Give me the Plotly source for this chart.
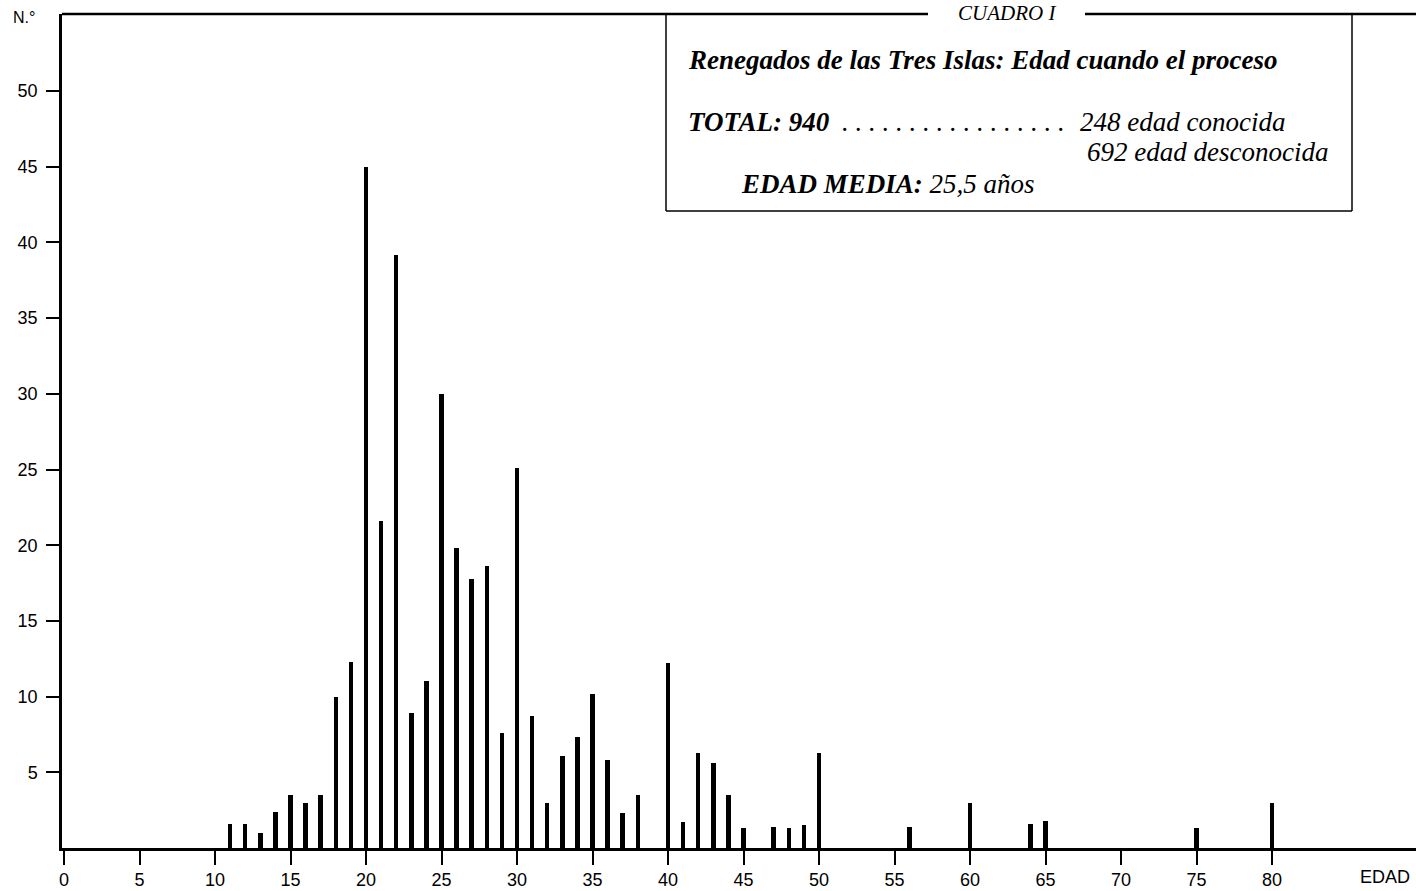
import plotly.graph_objects as go

# ---- data ----
ages = [11, 12, 13, 14, 15, 16, 17, 18, 19, 20, 21, 22, 23, 24, 25, 26, 27, 28, 29, 30,
        31, 32, 33, 34, 35, 36, 37, 38, 40, 41, 42, 43, 44, 45, 47, 48, 49, 50,
        56, 60, 64, 65, 75, 80]
counts = [1.6, 1.6, 1.0, 2.4, 3.5, 3.0, 3.5, 10.0, 12.3, 45.0, 21.6, 39.2, 8.9, 11.0, 30.0,
          19.8, 17.8, 18.6, 7.6, 25.1, 8.7, 3.0, 6.1, 7.3, 10.2, 5.8, 2.3, 3.5, 12.2, 1.7,
          6.3, 5.6, 3.5, 1.3, 1.4, 1.3, 1.5, 6.3, 1.4, 3.0, 1.6, 1.8, 1.3, 3.0]
x_ticks = list(range(0, 81, 5))
y_ticks = list(range(5, 51, 5))

W, H = 1416, 891
L, R, T, B = 62, 0, 14, 43
PW, PH = W - L - R, H - T - B


def px(x):
    return (x - L) / PW


def py(y):
    return (H - B - y) / PH


SERIF = "Liberation Serif"
SANS = "Liberation Sans"

fig = go.Figure()
fig.add_trace(go.Bar(x=ages, y=counts, width=0.3,
                     marker=dict(color="black", line=dict(width=0)),
                     hoverinfo="x+y"))

fig.update_layout(
    width=W, height=H,
    margin=dict(l=L, r=R, t=T, b=B),
    paper_bgcolor="white", plot_bgcolor="white",
    showlegend=False,
    bargap=0,
    xaxis=dict(range=[-2 / 15.1, (W - 64) / 15.1], tickvals=x_ticks,
               ticktext=[str(v) for v in x_ticks],
               showgrid=False, zeroline=False, showline=True, linecolor="black",
               linewidth=2.5, ticks="outside", ticklen=14, tickwidth=2,
               tickcolor="black", tickfont=dict(family=SANS, size=18, color="black")),
    yaxis=dict(range=[0, PH / 15.14], tickvals=y_ticks,
               ticktext=[str(v) for v in y_ticks],
               showgrid=False, zeroline=False, showline=True, linecolor="black",
               linewidth=2.5, ticks="outside", ticklen=13, tickwidth=2,
               ticklabelstandoff=5,
               tickcolor="black", tickfont=dict(family=SANS, size=18, color="black")),
)

shapes = []
# top frame line interrupted by title
shapes.append(dict(type="line", xref="paper", yref="paper", x0=px(62), x1=px(928),
                   y0=py(14), y1=py(14), line=dict(color="black", width=2.5)))
shapes.append(dict(type="line", xref="paper", yref="paper", x0=px(1085), x1=px(1416),
                   y0=py(14), y1=py(14), line=dict(color="black", width=2.5)))
# legend box
for (x0, y0, x1, y1) in [(666, 14, 666, 211), (1352, 14, 1352, 211), (666, 211, 1352, 211)]:
    shapes.append(dict(type="line", xref="paper", yref="paper", x0=px(x0), x1=px(x1),
                       y0=py(y0), y1=py(y1), line=dict(color="black", width=1.5)))
fig.update_layout(shapes=shapes)


def ann(text, x, y, xanchor="left", size=24, family=SERIF, yanchor="middle"):
    fig.add_annotation(text=text, xref="paper", yref="paper", x=px(x), y=py(y),
                       xanchor=xanchor, yanchor=yanchor, showarrow=False,
                       font=dict(family=family, size=size, color="black"))


ann("<i>CUADRO I</i>", 1007, -1, xanchor="center", size=21, yanchor="top")
ann("<b><i>Renegados de las Tres Islas: Edad cuando el proceso</i></b>", 686, 60, size=27)
ann("<b><i>TOTAL: 940</i></b>", 686, 122, size=27)
ann("<i>" + " ".join(["."] * 17) + "</i>", 840, 122, size=27)
ann("<i>248 edad conocida</i>", 1078, 122, size=27)
ann("<i>692 edad desconocida</i>", 1330, 152, xanchor="right", size=27)
ann("<b><i>EDAD MEDIA:</i></b><i> 25,5 años</i>", 739, 184, size=27)
ann("N.°", 24, 18, xanchor="center", size=16, family=SANS)
ann("EDAD", 1412, 877, xanchor="right", size=18, family=SANS)

fig.write_html("out.html")
